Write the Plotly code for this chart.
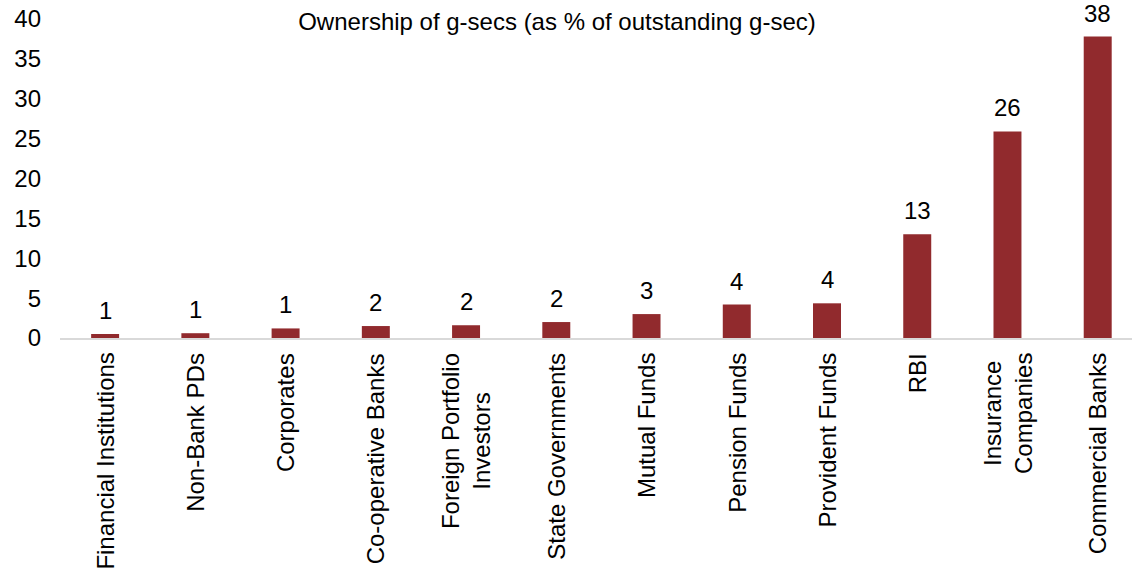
import plotly.graph_objects as go

categories = ["Financial Institutions", "Non-Bank PDs", "Corporates", "Co-operative Banks",
              "Foreign Portfolio<br>Investors", "State Governments", "Mutual Funds",
              "Pension Funds", "Provident Funds", "RBI", "Insurance<br>Companies",
              "Commercial Banks"]
values = [0.5, 0.6, 1.2, 1.5, 1.6, 2.0, 3.0, 4.2, 4.35, 13.0, 25.9, 37.8]
labels = [1, 1, 1, 2, 2, 2, 3, 4, 4, 13, 26, 38]
y_ticks = [0, 5, 10, 15, 20, 25, 30, 35, 40]

FONT = "Liberation Sans, Arial, sans-serif"
FS = 24
BAR = "#912A2D"

W, H = 1132, 575

fig = go.Figure()
fig.add_trace(go.Bar(x=categories, y=values, marker=dict(color=BAR, line=dict(width=0)),
                     width=0.31, showlegend=False))

for c, v, l in zip(categories, values, labels):
    fig.add_annotation(x=c, y=v, text=str(l), showarrow=False, yanchor="bottom",
                       yshift=8, font=dict(family=FONT, size=FS, color="#000"))

for c in categories:
    fig.add_annotation(x=c, y=0, yref="y", text=c, showarrow=False, textangle=-90,
                       xanchor="center", yanchor="top", yshift=-13, align="center",
                       font=dict(family=FONT, size=FS, color="#000"))

fig.update_layout(
    width=W, height=H,
    margin=dict(l=60, r=0, t=19, b=237, pad=0),
    paper_bgcolor="white", plot_bgcolor="white",
    font=dict(family=FONT, size=FS, color="#000"),
    title=dict(text="Ownership of g-secs (as % of outstanding g-sec)",
               xref="container", x=557/W, xanchor="center",
               yref="container", y=1 - 22/H, yanchor="middle",
               font=dict(family=FONT, size=FS, color="#000")),
    xaxis=dict(range=[-0.5, 11.38], showticklabels=False, showline=True, linecolor="#D9D9D9",
               linewidth=2, showgrid=False, ticks="", automargin=False),
    yaxis=dict(range=[0, 40], tickvals=y_ticks, showgrid=False, zeroline=False,
               showline=False, ticks="", ticklabelstandoff=18, automargin=False,
               ticklabeloverflow="allow", tickfont=dict(size=FS)),
)

fig.write_html("out.html", config={"displayModeBar": False},
               post_script="document.body.style.margin='0';")
